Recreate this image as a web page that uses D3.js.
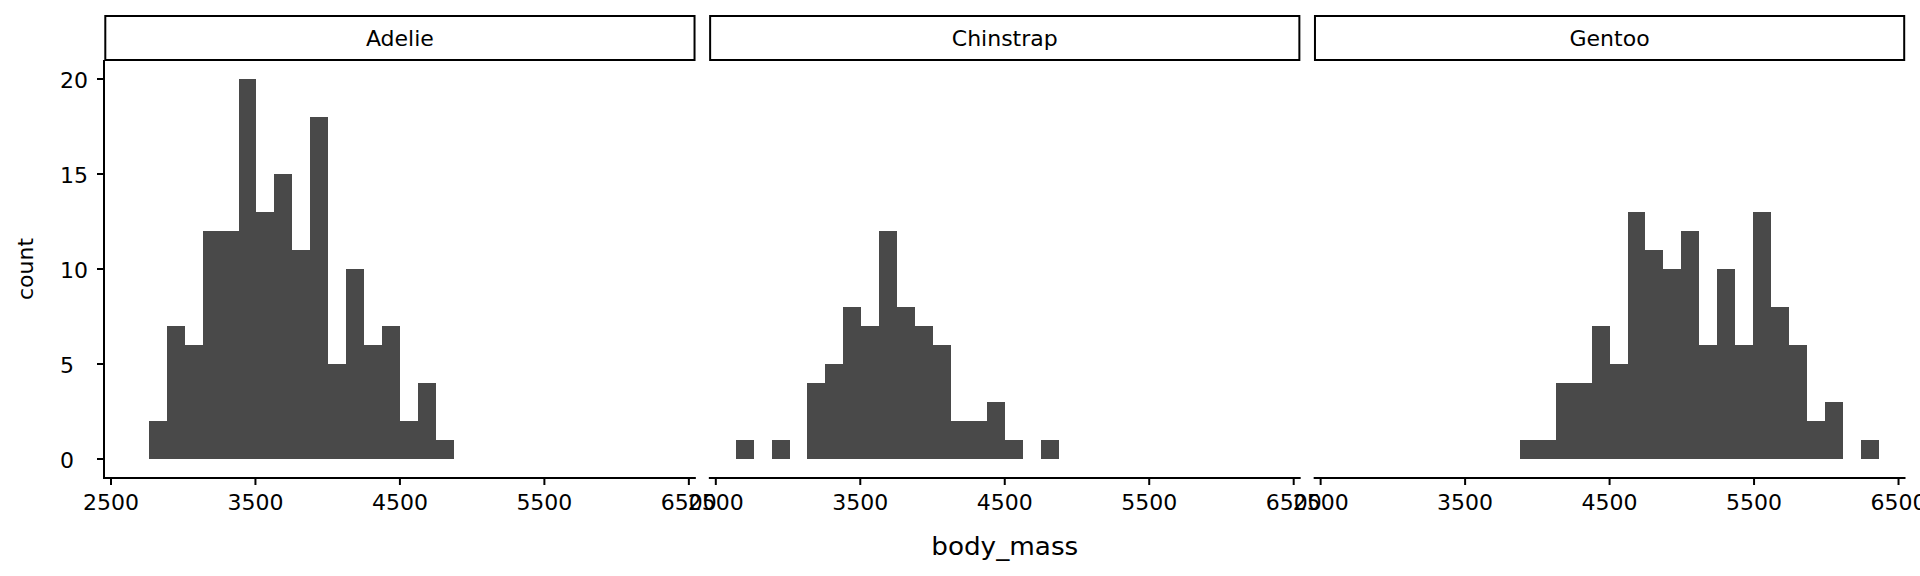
<!DOCTYPE html>
<html>
<head>
<meta charset="utf-8">
<script src="https://cdn.jsdelivr.net/npm/d3@7"></script>
<style>
  html, body { margin: 0; padding: 0; background: #ffffff; }
  svg { display: block; }
  text { font-family: "DejaVu Sans", sans-serif; fill: #000; }
</style>
</head>
<body>
<svg id="chart" width="1920" height="576"></svg>
<script>
// ---- data ----
const species = ["Adelie", "Chinstrap", "Gentoo"];
const binEdges = [2637.93, 2762.07, 2886.21, 3010.34, 3134.48, 3258.62, 3382.76, 3506.90,
  3631.03, 3755.17, 3879.31, 4003.45, 4127.59, 4251.72, 4375.86, 4500.00, 4624.14,
  4748.28, 4872.41, 4996.55, 5120.69, 5244.83, 5368.97, 5493.10, 5617.24, 5741.38,
  5865.52, 5989.66, 6113.79, 6237.93, 6362.07];
const countsAdelie    = [0, 2, 7, 6, 12, 12, 20, 13, 15, 11, 18, 5, 10, 6, 7, 2, 4, 1, 0, 0, 0, 0, 0, 0, 0, 0, 0, 0, 0, 0];
const countsChinstrap = [1, 0, 1, 0, 4, 5, 8, 7, 12, 8, 7, 6, 2, 2, 3, 1, 0, 1, 0, 0, 0, 0, 0, 0, 0, 0, 0, 0, 0, 0];
const countsGentoo    = [0, 0, 0, 0, 0, 0, 0, 0, 0, 0, 1, 1, 4, 4, 7, 5, 13, 11, 10, 12, 6, 10, 6, 13, 8, 6, 2, 3, 0, 1];
const xTicks = [2500, 3500, 4500, 5500, 6500];
const yTicks = [0, 5, 10, 15, 20];
const xTitle = "body_mass";
const yTitle = "count";

const seriesCounts = [countsAdelie, countsChinstrap, countsGentoo];

// ---- layout ----
const svg = d3.select("#chart");
const plotLeft = 104, plotRight = 1905.5, gap = 13;
const panelTop = 60, panelBottom = 478;
const stripTop = 16, stripBottom = 60;
const panelW = (plotRight - plotLeft - 2 * gap) / 3;
const barColor = "#494949";

// ggplot-style 5% expansion
const xMin = binEdges[0], xMax = binEdges[binEdges.length - 1];
const xPad = (xMax - xMin) * 0.05;
const yMaxCount = 20;
const yPad = yMaxCount * 0.05;

const y = d3.scaleLinear().domain([-yPad, yMaxCount + yPad]).range([panelBottom, panelTop]);

species.forEach((sp, i) => {
  const left = plotLeft + i * (panelW + gap);
  const x = d3.scaleLinear().domain([xMin - xPad, xMax + xPad]).range([left, left + panelW]);
  const g = svg.append("g");

  // bars
  const bins = seriesCounts[i].map((c, j) => ({ x0: binEdges[j], x1: binEdges[j + 1], c }))
    .filter(d => d.c > 0);
  g.selectAll("rect.bar").data(bins).enter().append("rect")
    .attr("class", "bar")
    .attr("x", d => x(d.x0))
    .attr("width", d => x(d.x1) - x(d.x0))
    .attr("y", d => y(d.c))
    .attr("height", d => y(0) - y(d.c))
    .attr("fill", barColor)
    .attr("shape-rendering", "crispEdges");

  // strip
  g.append("rect")
    .attr("x", left + 1.3).attr("y", stripTop)
    .attr("width", panelW - 2.6).attr("height", stripBottom - stripTop)
    .attr("fill", "#fff").attr("stroke", "#000").attr("stroke-width", 2);
  g.append("text")
    .attr("x", left + panelW / 2).attr("y", (stripTop + stripBottom) / 2 + 8)
    .attr("text-anchor", "middle").attr("font-size", 22)
    .text(sp);

  // x axis
  const xa = g.append("g").attr("transform", `translate(0,${panelBottom})`);
  xa.append("line").attr("x1", left).attr("x2", left + panelW)
    .attr("y1", 0).attr("y2", 0).attr("stroke", "#000").attr("stroke-width", 2);
  xTicks.forEach(t => {
    xa.append("line").attr("x1", x(t)).attr("x2", x(t)).attr("y1", 0).attr("y2", 7)
      .attr("stroke", "#000").attr("stroke-width", 2);
    xa.append("text").attr("x", x(t)).attr("y", 32)
      .attr("text-anchor", "middle").attr("font-size", 22).text(t);
  });

  // y axis only on first panel
  if (i === 0) {
    const ya = g.append("g");
    ya.append("line").attr("x1", left).attr("x2", left)
      .attr("y1", panelTop).attr("y2", panelBottom + 1).attr("stroke", "#000").attr("stroke-width", 2);
    yTicks.forEach(t => {
      ya.append("line").attr("x1", left - 7).attr("x2", left).attr("y1", y(t)).attr("y2", y(t))
        .attr("stroke", "#000").attr("stroke-width", 2);
      ya.append("text").attr("x", 60).attr("y", y(t) + 9)
        .attr("text-anchor", "start").attr("font-size", 22).text(t);
    });
  }
});

// axis titles
svg.append("text")
  .attr("x", (plotLeft + plotRight) / 2).attr("y", 555)
  .attr("text-anchor", "middle").attr("font-size", 24)
  .attr("textLength", 147).attr("lengthAdjust", "spacingAndGlyphs")
  .text(xTitle);
svg.append("text")
  .attr("transform", `translate(33,${(panelTop + panelBottom) / 2}) rotate(-90)`)
  .attr("text-anchor", "middle").attr("font-size", 22)
  .text(yTitle);
</script>
</body>
</html>
